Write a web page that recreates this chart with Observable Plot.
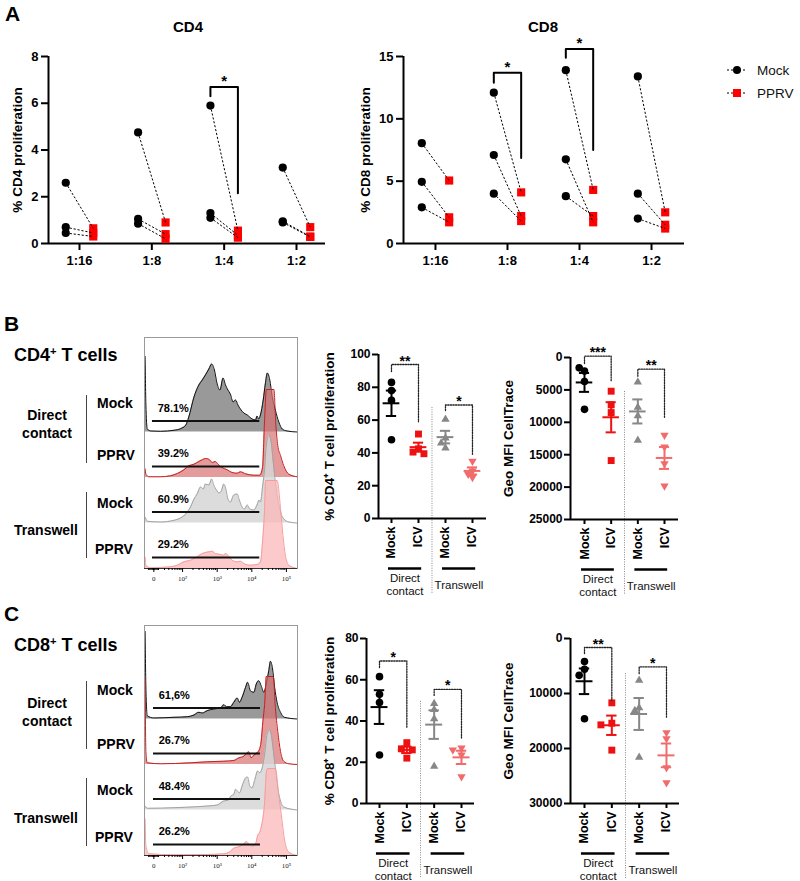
<!DOCTYPE html>
<html>
<head>
<meta charset="utf-8">
<script src="https://cdn.jsdelivr.net/npm/d3@7"></script>
<script src="https://cdn.jsdelivr.net/npm/@observablehq/plot@0.6"></script>
<style>
  body { margin: 0; background: #fff; }
  #fig { position: relative; width: 800px; height: 881px; overflow: hidden;
         font-family: "Liberation Sans", Arial, Helvetica, sans-serif; color: #000; }
  #fig svg { overflow: visible; }
  .lbl { position: absolute; white-space: nowrap; line-height: 1; }
  .bar { position: absolute; width: 0; border-left: 1.6px solid #444; }
</style>
</head>
<body>
<div id="fig"></div>
<script>
// ---------- Panel A: paired proliferation per dilution ----------
const dilutions = ["1:16", "1:8", "1:4", "1:2"];
const cd4Mock = [[2.6, 0.7, 0.45], [4.75, 1.05, 0.85], [5.9, 1.3, 1.1], [3.25, 0.95, 0.9]];
const cd4Pprv = [[0.65, 0.45, 0.3], [0.9, 0.4, 0.2], [0.55, 0.35, 0.25], [0.7, 0.3, 0.28]];
const cd8Mock = [[8.05, 4.95, 2.9], [12.1, 7.1, 4.0], [13.9, 6.75, 3.8], [13.4, 4.0, 2.0]];
const cd8Pprv = [[5.05, 2.1, 1.7], [4.1, 2.2, 1.8], [4.3, 1.7, 2.2], [2.5, 1.5, 1.2]];
const cd4PairSig = [{at: 2, top: 6.7, left: 6.3, right: 2.15, label: "*"}];
const cd8PairSig = [
  {at: 1, top: 13.7, left: 12.9, right: 6.85, label: "*"},
  {at: 2, top: 15.6, left: 14.9, right: 7.5, label: "*"}
];
const legendNames = ["Mock", "PPRV"];

// ---------- Panels B/C: histogram overlays ----------
const histTickPos = [1.17, 2, 3, 4, 5];
const histTickText = ["0", "10\u00B2", "10\u00B3", "10\u2074", "10\u2075"];
const rowNames = ["Mock", "PPRV", "Mock", "PPRV"];
const cultureNames = ["Direct<br>contact", "Transwell"];

const cd4HistMockDirect = [[0.90,0],[0.91,76],[0.94,28],[0.98,3],[1.08,1],[1.37,0.7],[1.75,1.7],[1.94,3.3],[2.09,6.7],[2.18,15],[2.33,35],[2.47,47],[2.57,52],[2.66,57],[2.76,63],[2.84,68],[2.92,62],[3.00,48],[3.08,42],[3.17,54],[3.24,47],[3.31,42],[3.38,38],[3.46,30],[3.53,32],[3.60,27],[3.67,23],[3.77,19],[3.87,17],[4.01,13],[4.11,12],[4.15,16],[4.20,13],[4.25,17],[4.33,32],[4.39,48],[4.45,59],[4.52,52],[4.59,35],[4.68,22],[4.78,10],[4.88,3],[5.02,1],[5.31,0]];
const cd4HistPprvDirect = [[0.90,0],[0.91,9],[0.94,3.3],[1.03,0.7],[1.37,0.7],[1.65,1.7],[1.85,4],[2.04,7.7],[2.18,11.7],[2.33,13.3],[2.47,16],[2.57,17.7],[2.66,19],[2.76,18.3],[2.86,15],[2.95,16],[3.02,13.3],[3.14,10],[3.29,7.7],[3.43,5],[3.58,4.3],[3.67,5.7],[3.82,3.7],[4.06,2.3],[4.23,2.3],[4.31,10],[4.37,58],[4.42,88],[4.64,88],[4.69,55],[4.75,32],[4.83,22],[4.92,12],[5.07,3.3],[5.31,0.7]];
const cd4HistMockTrans = [[0.90,0],[0.91,6],[0.98,1.7],[1.37,1],[1.75,2.7],[1.94,5],[2.14,11],[2.23,16],[2.33,24],[2.42,29],[2.52,36],[2.60,34],[2.66,39],[2.76,38],[2.84,44],[2.90,38],[2.98,33],[3.05,30],[3.12,32],[3.19,39],[3.25,34],[3.31,24],[3.38,21],[3.48,28],[3.58,29],[3.64,23],[3.72,16],[3.79,14],[3.87,18],[3.94,14],[4.06,13],[4.15,18],[4.21,23],[4.25,21],[4.31,36],[4.37,54],[4.42,78],[4.49,88],[4.56,81],[4.62,61],[4.68,41],[4.75,24],[4.83,11],[4.92,4.3],[5.07,1],[5.31,0]];
const cd4HistPprvTrans = [[0.90,0],[0.91,11.7],[0.94,3.3],[1.08,0.7],[1.65,1.7],[1.85,3.3],[2.04,6.7],[2.23,8.3],[2.42,11.7],[2.57,15],[2.66,16],[2.76,16.7],[2.86,17.3],[2.95,15],[3.10,14],[3.19,13.3],[3.24,15],[3.31,13.3],[3.43,8.3],[3.58,6.7],[3.67,7.3],[3.77,5],[3.96,3.3],[4.15,4],[4.25,6.7],[4.31,26.7],[4.37,60],[4.40,88],[4.73,88],[4.83,60],[4.90,33],[4.97,13.3],[5.07,3.3],[5.31,0]];
const cd4Percents = ["78.1%", "39.2%", "60.9%", "29.2%"];
const cd4Gate = [1.13, 4.23];

const cd8HistMockDirect = [[0.90,0],[0.91,88],[0.94,32],[0.98,3.3],[1.17,1],[1.75,1.7],[2.14,2.3],[2.33,4],[2.47,6.7],[2.57,6],[2.71,8.3],[2.90,10],[3.10,11],[3.19,14.3],[3.27,12.3],[3.38,12.3],[3.48,16.7],[3.58,21],[3.64,16.7],[3.72,21.7],[3.82,31.7],[3.88,36.7],[3.96,28.3],[4.06,26.7],[4.13,35],[4.20,38.3],[4.27,33.3],[4.35,26.7],[4.41,33.3],[4.49,48.3],[4.54,57.7],[4.60,50],[4.66,31.7],[4.73,16.7],[4.83,6.7],[4.94,1.7],[5.31,0]];
const cd8HistPprvDirect = [[0.90,0],[0.91,87],[0.94,13],[0.98,1.7],[1.37,0.7],[2.23,1.7],[2.71,2.7],[3.19,3.3],[3.48,4],[3.63,6.7],[3.77,8.3],[3.87,11.7],[3.91,12.7],[3.98,6.7],[4.06,9.3],[4.15,11.7],[4.22,15],[4.27,23],[4.32,43],[4.37,60],[4.42,88],[4.62,88],[4.68,57],[4.75,33],[4.83,13],[4.92,3.3],[5.07,0.7],[5.31,0]];
const cd8HistMockTrans = [[0.90,0],[0.91,4],[0.98,1.7],[1.75,2.3],[2.42,3.3],[2.71,4],[3.00,5],[3.19,9],[3.31,9.7],[3.40,14],[3.48,15.7],[3.53,20.7],[3.58,19],[3.65,17.3],[3.72,24],[3.82,32],[3.88,33],[3.94,24],[4.01,22.3],[4.09,30.7],[4.17,39],[4.23,37.3],[4.30,42],[4.37,55.7],[4.44,75.7],[4.51,80],[4.56,76],[4.62,60],[4.68,42],[4.75,22],[4.83,9],[4.92,3],[5.31,0]];
const cd8HistPprvTrans = [[0.90,0],[0.91,37],[0.94,10],[1.03,1.7],[1.75,0.7],[2.71,1],[3.19,1.7],[3.38,4],[3.48,7.3],[3.58,8.3],[3.67,9.3],[3.77,11.7],[3.85,14],[3.91,11.7],[4.01,9.3],[4.11,11.7],[4.17,20],[4.23,23.3],[4.30,33],[4.37,53],[4.42,83],[4.46,87],[4.68,87],[4.78,60],[4.88,33],[4.94,16.7],[5.07,3.3],[5.31,0]];
const cd8Percents = ["61,6%", "26.7%", "48.4%", "26.2%"];
const cd8Gate = [1.16, 4.25];

// ---------- Panels B/C: replicate summaries (Mock / ICV, direct contact then transwell) ----------
const groupCats = ["Mock", "ICV", "Mock", "ICV"];
const cultureLabels = ["Direct\ncontact", "Transwell"];
const cd4Prolif = [[83, 78, 72, 48], [51.5, 42.5, 40.5, 39.5], [60.5, 49, 46, 43], [35, 29, 27, 25]];
const cd4Mfi = [[2100, 1600, 3700, 8000], [5200, 7300, 8500, 15900], [3800, 7700, 9000, 12800], [12000, 13800, 16400, 19800]];
const cd8Prolif = [[61.5, 53, 49, 23.5], [29.5, 26.5, 26, 22], [48.5, 45.5, 41, 18], [27, 26, 23.5, 13]];
const cd8Mfi = [[4200, 5600, 6700, 14600], [11700, 15400, 15700, 20300], [7600, 12600, 13100, 21600], [17100, 18200, 23500, 26200]];
const cd4ProlifSig = [{a: 0, b: 1, top: 93.9, left: 89.6, right: 59, label: "**"}, {a: 2, b: 3, top: 69.2, left: 65.8, right: 38.9, label: "*"}];
const cd4MfiSig = [{a: 0, b: 1, top: -200, left: 930, right: 3760, label: "***"}, {a: 2, b: 3, top: 1800, left: 2890, right: 9430, label: "**"}];
const cd8ProlifSig = [{a: 0, b: 1, top: 69.1, left: 65.9, right: 36.7, label: "*"}, {a: 2, b: 3, top: 55.3, left: 52.4, right: 31.3, label: "*"}];
const cd8MfiSig = [{a: 0, b: 1, top: 1640, left: 2740, right: 11260, label: "**"}, {a: 2, b: 3, top: 5170, left: 6390, right: 14300, label: "*"}];

// ---------- shared helpers ----------
const FONT = '"Liberation Sans", Arial, Helvetica, sans-serif';
const fig = document.getElementById("fig");

function place(node, left, top) {
  node.style.position = "absolute";
  node.style.left = left + "px";
  node.style.top = top + "px";
  fig.appendChild(node);
  return node;
}

// HTML text centred vertically on y; anchor "start" or "middle" horizontally on x
function label(html, x, y, {size = 14, weight = "bold", anchor = "start", lineHeight = 1} = {}) {
  const el = document.createElement("div");
  el.className = "lbl";
  el.innerHTML = html;
  el.style.left = x + "px";
  el.style.top = y + "px";
  el.style.fontSize = size + "px";
  el.style.fontWeight = weight;
  el.style.lineHeight = lineHeight;
  el.style.textAlign = anchor === "middle" ? "center" : "left";
  el.style.transform = `translate(${anchor === "middle" ? "-50%" : "0"}, -50%)`;
  fig.appendChild(el);
  return el;
}

function vbar(x, y1, y2) {
  const el = document.createElement("div");
  el.className = "bar";
  el.style.left = x + "px";
  el.style.top = y1 + "px";
  el.style.height = (y2 - y1) + "px";
  fig.appendChild(el);
}

const sup = (s) => `<span style="font-size:0.62em;vertical-align:0.55em">${s}</span>`;

const downTriangle = {
  draw(context, size) {
    const y = Math.sqrt(size / (Math.sqrt(3) * 3));
    context.moveTo(0, 2 * y);
    context.lineTo(-Math.sqrt(3) * y, -y);
    context.lineTo(Math.sqrt(3) * y, -y);
    context.closePath();
  }
};

// rotated y-axis title, centred along the frame's left edge
const yTitle = (title, dx) =>
  Plot.text([title], {frameAnchor: "left", textAnchor: "middle", lineAnchor: "middle",
                      rotate: -90, dx, fontSize: 13.5, fontWeight: "bold"});

// ---------- Panel A charts ----------
function pairedChart(mock, pprv, sig, o) {
  const off = 0.19;
  const rows = [];
  mock.forEach((vals, i) => vals.forEach((v, k) => rows.push({i, m: v, p: pprv[i][k]})));
  const marks = [
    Plot.ruleX([o.xDomain[0]], {strokeWidth: 2}),
    Plot.ruleY([0], {strokeWidth: 2}),
    Plot.axisY({ticks: o.yTicks, tickSize: 7, tickPadding: 3, strokeWidth: 2, label: null, fontSize: 13}),
    Plot.axisX({ticks: [0, 1, 2, 3], tickFormat: (i) => dilutions[i], tickSize: 7, tickPadding: 5,
                strokeWidth: 2, label: null, fontSize: 13}),
    Plot.dot(rows, {x: (d) => d.i + off, y: "p", symbol: "square", r: 4.6, fill: "#f00"}),
    Plot.link(rows, {x1: (d) => d.i - off, y1: "m", x2: (d) => d.i + off, y2: "p",
                     stroke: "#000", strokeWidth: 1, strokeDasharray: "2.2,1.8"}),
    Plot.dot(rows, {x: (d) => d.i - off, y: "m", r: 4.1, fill: "#000"}),
    yTitle(o.title, o.titleDx)
  ];
  for (const s of sig) {
    marks.push(Plot.line(
      [[s.at - off, s.left], [s.at - off, s.top], [s.at + off, s.top], [s.at + off, s.right]],
      {x: (d) => d[0], y: (d) => d[1], strokeWidth: 2}));
    marks.push(Plot.text([s.label], {x: s.at, y: s.top, dy: -1, lineAnchor: "bottom", fontSize: 15}));
  }
  return Plot.plot({
    width: o.width, height: o.height,
    marginLeft: o.marginLeft, marginRight: o.marginRight, marginTop: o.marginTop, marginBottom: o.marginBottom,
    x: {domain: o.xDomain, label: null},
    y: {domain: [0, o.yMax], label: null},
    style: {fontFamily: FONT, fontSize: "13px", fontWeight: "bold", background: "transparent", color: "#000"},
    marks
  });
}

place(pairedChart(cd4Mock, cd4Pprv, cd4PairSig, {
  title: "% CD4 proliferation", titleDx: -31, yMax: 8, yTicks: [0, 2, 4, 6, 8],
  xDomain: [-0.4286, 3.401], width: 330, height: 240,
  marginLeft: 48, marginRight: 5, marginTop: 16, marginBottom: 37
}), 0, 40);

place(pairedChart(cd8Mock, cd8Pprv, cd8PairSig, {
  title: "% CD8 proliferation", titleDx: -38, yMax: 15, yTicks: [0, 5, 10, 15],
  xDomain: [-0.444, 3.458], width: 360, height: 240,
  marginLeft: 73, marginRight: 6, marginTop: 16, marginBottom: 37
}), 330, 40);

label("A", 5, 13, {size: 21});
label("CD4", 188, 26, {size: 15, anchor: "middle"});
label("CD8", 543, 26, {size: 15, anchor: "middle"});

// legend
{
  const svg = d3.create("svg").attr("width", 80).attr("height", 50)
    .style("font-family", FONT);
  legendNames.forEach((name, i) => {
    const y = 15 + i * 23;
    svg.append("line").attr("x1", 7).attr("x2", 27).attr("y1", y).attr("y2", y)
      .attr("stroke", "#000").attr("stroke-width", 1).attr("stroke-dasharray", "2,2");
    if (i === 0) svg.append("circle").attr("cx", 17).attr("cy", y).attr("r", 4).attr("fill", "#000");
    else svg.append("rect").attr("x", 13).attr("y", y - 4).attr("width", 8).attr("height", 8).attr("fill", "#f00");
    svg.append("text").attr("x", 37).attr("y", y).attr("dy", "0.35em")
      .attr("font-size", 13.5).attr("fill", "#111").text(name);
  });
  place(svg.node(), 720, 55);
}

// ---------- histogram overlays ----------
const histStyle = [
  {fill: "#8e8e8e", stroke: "#111", opacity: 0.9},
  {fill: "#d97070", stroke: "#c62020", opacity: 0.7},
  {fill: "#d6d6d6", stroke: "#a3a3a3", opacity: 0.85},
  {fill: "#fbb8b8", stroke: "#f59d9d", opacity: 0.75}
];

function histChart(rows, percents, gate, frameH) {
  const step = 45.5, lift = 11;
  const minor = [];
  for (let v = 1.02; v < 1.3; v += 0.035) minor.push(v);
  for (let k = 1; k <= 4; k++) for (let m = 2; m <= 9; m++) {
    const v = k + Math.log10(m);
    if (v > 1.3 && v < 5.3) minor.push(v);
  }
  const marks = [];
  rows.forEach((pts, i) => {
    const base = (rows.length - 1 - i) * step;
    const st = histStyle[i];
    marks.push(Plot.area(pts, {x1: (p) => p[0], y1: base, y2: (p) => base + p[1],
      fill: st.fill, fillOpacity: st.opacity, curve: "monotone-x"}));
    marks.push(Plot.line(pts, {x: (p) => p[0], y: (p) => base + p[1],
      stroke: st.stroke, strokeWidth: 1, curve: "monotone-x"}));
  });
  rows.forEach((pts, i) => {
    const base = (rows.length - 1 - i) * step;
    marks.push(Plot.ruleY([base + lift], {x1: gate[0], x2: gate[1], strokeWidth: 2, stroke: "#111"}));
    marks.push(Plot.text([percents[i]], {x: gate[0] + 0.15, y: base + lift, dy: -13,
      textAnchor: "start", fontSize: 11, fontWeight: "bold"}));
  });
  marks.push(Plot.frame({stroke: "#9a9a9a", strokeWidth: 1}));
  marks.push(Plot.ruleY([0], {stroke: "#333", strokeWidth: 1}));
  marks.push(Plot.axisX({ticks: minor, tickFormat: () => "", tickSize: 2, strokeWidth: 1, label: null}));
  marks.push(Plot.axisX({ticks: histTickPos, tickFormat: (d) => histTickText[histTickPos.indexOf(d)],
    tickSize: 4, tickPadding: 4, strokeWidth: 1, label: null, fill: "#222",
    fontSize: 7, fontWeight: "normal", fontFamily: '"Liberation Serif", serif'}));
  return Plot.plot({
    width: 165, height: frameH + 31,
    marginLeft: 4, marginRight: 8, marginTop: 7, marginBottom: 24,
    x: {domain: [0.9, 5.32], label: null},
    y: {domain: [0, frameH], label: null, axis: null},
    style: {fontFamily: FONT, fontSize: "11px", background: "transparent", color: "#000"},
    marks
  });
}

place(histChart([cd4HistMockDirect, cd4HistPprvDirect, cd4HistMockTrans, cd4HistPprvTrans],
  cd4Percents, cd4Gate, 231), 140, 330);
place(histChart([cd8HistMockDirect, cd8HistPprvDirect, cd8HistMockTrans, cd8HistPprvTrans],
  cd8Percents, cd8Gate, 230), 140, 618);

// row labels beside the overlays
function overlayLabels(top, panel, heading, rowY, cultureY, bars) {
  label(panel, 4, top, {size: 21});
  label(heading, 14, top + 32, {size: 18});
  rowNames.forEach((n, i) => label(n, i === 3 ? 95 : 97, rowY[i], {size: 14}));
  label(cultureNames[0], 47, cultureY[0], {size: 14, anchor: "middle", lineHeight: 1.28});
  label(cultureNames[1], 46, cultureY[1], {size: 14, anchor: "middle"});
  bars.forEach(([a, b]) => vbar(86, a, b));
}
overlayLabels(323, "B", `CD4${sup("+")} T cells`, [403, 455, 503, 549], [425, 530], [[395, 463], [492, 558]]);
overlayLabels(613, "C", `CD8${sup("+")} T cells`, [690, 744, 790, 837], [713, 818], [[681, 749], [778, 846]]);

// ---------- replicate scatter charts ----------
const groupStyle = [
  {color: "#000000", symbol: "circle", r: 3.8},
  {color: "#ee1111", symbol: "square", r: 3.9},
  {color: "#878787", symbol: "triangle", r: 3.1},
  {color: "#f26b6b", symbol: downTriangle, r: 3.1}
];

function swarmOffsets(vals, pxPerY, pxPerX, r) {
  const placed = [];
  const stepPx = r * 1.4, minDist = r * 1.6;
  const slots = [0, -1, 1, -2, 2, -3, 3];
  return vals.map((v) => {
    const py = v * pxPerY;
    let s = slots.find((s) => placed.every((p) => Math.hypot(p.x - s * stepPx, p.y - py) >= minDist));
    if (s === undefined) s = 0;
    placed.push({x: s * stepPx, y: py});
    return (s * stepPx) / pxPerX;
  });
}

function scatterChart(values, sig, o) {
  const [y0, y1] = o.yDomain;
  const yBottom = o.reverse ? y1 : y0;
  const frameH = o.height - o.marginTop - o.marginBottom;
  const frameW = o.width - o.marginLeft - o.marginRight;
  const pxPerY = frameH / (y1 - y0);
  const pxPerX = frameW / (o.xDomain[1] - o.xDomain[0]);
  const marks = [
    Plot.ruleX([1.5], {y1: o.sepTop, y2: yBottom, insetBottom: -75,
      stroke: "#6a6a6a", strokeWidth: 0.8, strokeDasharray: "1,1.4"}),
    Plot.ruleX([o.xDomain[0]], {strokeWidth: 2}),
    Plot.ruleY([yBottom], {strokeWidth: 2}),
    Plot.axisY({ticks: o.yTicks, tickFormat: "d", tickSize: 6, tickPadding: 2, strokeWidth: 2,
      label: null, fontSize: 12}),
    Plot.axisX({ticks: [0, 1, 2, 3], tickFormat: (i) => groupCats[i], tickRotate: -90, tickSize: 5,
      tickPadding: 3, strokeWidth: 2, label: null, fontSize: 12.5}),
    Plot.link([{a: -0.13, b: 1.1}, {a: 1.87, b: 3.1}], {x1: "a", x2: "b", y1: yBottom, y2: yBottom,
      dy: 50, strokeWidth: 2.5, stroke: "#000"}),
    Plot.text([{x: 0.5, t: cultureLabels[0]}, {x: 2.5, t: cultureLabels[1]}], {x: "x", y: yBottom,
      text: "t", dy: 66, fontSize: 11.5, fontWeight: "normal", lineHeight: 1.12, fill: "#111"}),
    yTitle(o.title, o.titleDx)
  ];
  values.forEach((vals, g) => {
    const st = groupStyle[g];
    const offs = swarmOffsets(vals, pxPerY, pxPerX, st.r);
    const pts = vals.map((v, k) => ({x: g + offs[k], y: v}));
    marks.push(Plot.dot(pts, {x: "x", y: "y", symbol: st.symbol, r: st.r, fill: st.color, stroke: "none"}));
  });
  values.forEach((vals, g) => {
    const st = groupStyle[g];
    const m = d3.mean(vals);
    const s = d3.deviation(vals) / Math.sqrt(vals.length);
    marks.push(Plot.ruleY([m], {x1: g - 0.31, x2: g + 0.31, stroke: st.color, strokeWidth: 2}));
    marks.push(Plot.ruleY([m - s, m + s], {x1: g - 0.19, x2: g + 0.19, stroke: st.color, strokeWidth: 2}));
    marks.push(Plot.ruleX([g], {y1: m - s, y2: m + s, stroke: st.color, strokeWidth: 2}));
  });
  for (const b of sig) {
    marks.push(Plot.line([[b.a, b.left], [b.a, b.top], [b.b, b.top], [b.b, b.right]],
      {x: (d) => d[0], y: (d) => d[1], stroke: "#222", strokeWidth: 1.3, strokeDasharray: "1.3,1.3"}));
    marks.push(Plot.text([b.label], {x: (b.a + b.b) / 2, y: b.top, dy: 1, lineAnchor: "bottom", fontSize: 14}));
  }
  return Plot.plot({
    width: o.width, height: o.height,
    marginLeft: o.marginLeft, marginRight: o.marginRight, marginTop: o.marginTop, marginBottom: o.marginBottom,
    x: {domain: o.xDomain, label: null},
    y: {domain: o.yDomain, reverse: !!o.reverse, label: null},
    style: {fontFamily: FONT, fontSize: "12px", fontWeight: "bold", background: "transparent", color: "#000"},
    marks
  });
}

place(scatterChart(cd4Prolif, cd4ProlifSig, {
  title: "% CD4\u207A T cell proliferation", titleDx: -49,
  yDomain: [0, 100], yTicks: [0, 20, 40, 60, 80, 100], sepTop: 67.7,
  xDomain: [-0.481, 3.519], width: 165, height: 260,
  marginLeft: 48, marginRight: 9, marginTop: 14, marginBottom: 82
}), 330, 340);

place(scatterChart(cd4Mfi, cd4MfiSig, {
  title: "Geo MFI CellTrace", titleDx: -62,
  yDomain: [0, 25000], reverse: true, yTicks: [0, 5000, 10000, 15000, 20000, 25000], sepTop: 5250,
  xDomain: [-0.525, 3.525], width: 190, height: 260,
  marginLeft: 70, marginRight: 12, marginTop: 17, marginBottom: 81
}), 500, 340);

place(scatterChart(cd8Prolif, cd8ProlifSig, {
  title: "% CD8\u207A T cell proliferation", titleDx: -37,
  yDomain: [0, 80], yTicks: [0, 20, 40, 60, 80], sepTop: 49.5,
  xDomain: [-0.476, 3.476], width: 165, height: 256,
  marginLeft: 36, marginRight: 21, marginTop: 13, marginBottom: 78
}), 330, 625);

place(scatterChart(cd8Mfi, cd8MfiSig, {
  title: "Geo MFI CellTrace", titleDx: -62,
  yDomain: [0, 30000], reverse: true, yTicks: [0, 10000, 20000, 30000], sepTop: 6360,
  xDomain: [-0.512, 3.476], width: 190, height: 256,
  marginLeft: 70, marginRight: 11, marginTop: 13, marginBottom: 78
}), 500, 625);
</script>
</body>
</html>
